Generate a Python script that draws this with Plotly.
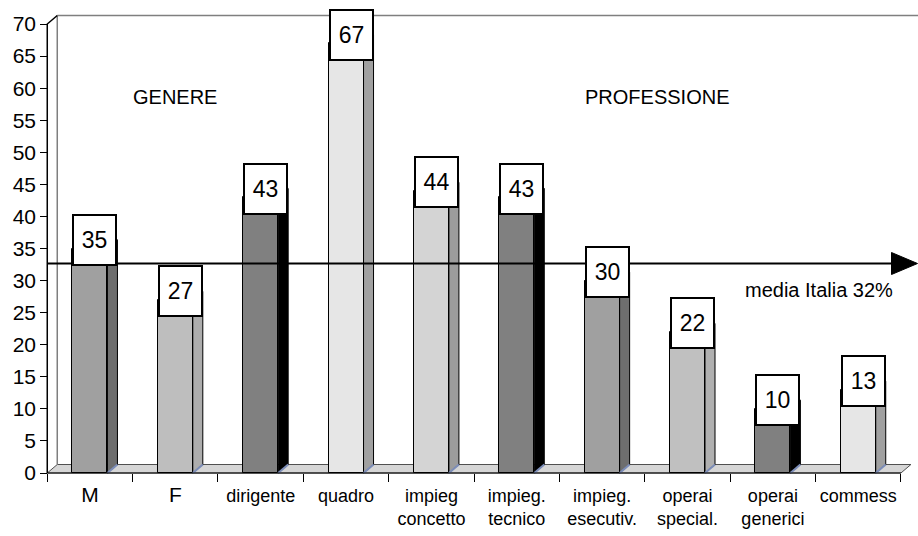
import plotly.graph_objects as go

# ---- data -------------------------------------------------------------
CATEGORIES = ["M", "F", "dirigente", "quadro", "impieg\nconcetto", "impieg.\ntecnico",
              "impieg.\nesecutiv.", "operai\nspecial.", "operai\ngenerici", "commess"]
VALUES = [35, 27, 43, 67, 44, 43, 30, 22, 10, 13]
MEAN_ITALIA = 32
MEAN_LABEL = "media Italia 32%"
GROUP_TITLES = ["GENERE", "PROFESSIONE"]
Y_TICKS = list(range(0, 75, 5))
BIG_LABELS = ["M", "F"]

# ---- styling ----------------------------------------------------------
FRONT_COLORS = ["#A0A0A0", "#BEBEBE", "#808080", "#E6E6E6", "#D4D4D4",
                "#808080", "#A0A0A0", "#C0C0C0", "#808080", "#E6E6E6"]
SIDE_COLORS = ["#6E6E6E", "#ADADAD", "#000000", "#A0A0A0", "#9C9C9C",
               "#000000", "#6E6E6E", "#B0B0B0", "#000000", "#A0A0A0"]
TOP_COLORS = ["#C8C8C8", "#D8D8D8", "#A8A8A8", "#F2F2F2", "#E6E6E6",
              "#A8A8A8", "#C8C8C8", "#DADADA", "#A8A8A8", "#F2F2F2"]
FONT = "Liberation Sans, Arial, sans-serif"

W, H = 918, 536
ML, MR, MT, MB = 40, 0, 13, 60
PLOT_W = W - ML - MR
PLOT_H = H - MT - MB
X_MIN, X_MAX = -0.585, 9.70
Y_MIN, Y_MAX = -0.468, 71.72
PXU_X = PLOT_W / (X_MAX - X_MIN)
PXU_Y = PLOT_H / (Y_MAX - Y_MIN)

# pseudo-3D depth of the columns, in axis units
DX = 10 / PXU_X
DY = 8.5 / PXU_Y
BAR_W = 0.41
Y_TOP = Y_TICKS[-1]
X_LEFT = -0.5
X_RIGHT = len(CATEGORIES) - 0.5

idx = list(range(len(CATEGORIES)))


def tick_label(c):
    t = c.replace("\n", "<br>")
    if c in BIG_LABELS:
        t = "<span style='font-size:21px'>" + t + "</span>"
    return t


fig = go.Figure()

fig.add_trace(go.Bar(
    x=idx, y=VALUES, width=BAR_W,
    marker=dict(color=FRONT_COLORS, line=dict(color="#000000", width=1)),
    hoverinfo="skip", showlegend=False,
))

shapes = []
# floor
shapes.append(dict(
    type="path", xref="x", yref="y", layer="below",
    path=f"M {X_LEFT},0 L {X_RIGHT},0 L {X_RIGHT + DX},{DY} L {X_LEFT + DX},{DY} Z",
    fillcolor="#D6D6D6", line=dict(color="#505050", width=1),
))
# back wall edges
shapes.append(dict(
    type="line", xref="x", yref="y", layer="below",
    x0=X_LEFT + DX, y0=DY, x1=X_LEFT + DX, y1=Y_TOP + DY,
    line=dict(color="#7F7F7F", width=1.5),
))
shapes.append(dict(
    type="line", xref="x", yref="y", layer="below",
    x0=X_LEFT + DX, y0=Y_TOP + DY, x1=X_MAX, y1=Y_TOP + DY,
    line=dict(color="#7F7F7F", width=1.5),
))

# side and top faces of the columns
for i, v in enumerate(VALUES):
    xr = i + BAR_W / 2
    xl = i - BAR_W / 2
    shapes.append(dict(
        type="path", xref="x", yref="y", layer="below",
        path=f"M {xr},0 L {xr + DX},{DY} L {xr + DX},{v + DY} L {xr},{v} Z",
        fillcolor=SIDE_COLORS[i], line=dict(color="#000000", width=1),
    ))
    shapes.append(dict(
        type="path", xref="x", yref="y", layer="below",
        path=f"M {xl},{v} L {xl + DX},{v + DY} L {xr + DX},{v + DY} L {xr},{v} Z",
        fillcolor=TOP_COLORS[i], line=dict(color="#000000", width=1),
    ))
    shapes.append(dict(
        type="line", xref="x", yref="y", layer="above",
        x0=xr, y0=0, x1=xr + DX, y1=DY,
        line=dict(color="#7C8DB8", width=2),
    ))

# front value axis and floor front edge
shapes.append(dict(
    type="path", xref="x", yref="y", layer="above",
    path=f"M {X_LEFT},0 L {X_LEFT},{Y_TOP} L {X_LEFT + DX},{Y_TOP + DY}",
    line=dict(color="#000000", width=1.5),
))
shapes.append(dict(
    type="line", xref="x", yref="y", layer="above",
    x0=X_LEFT, y0=0, x1=X_RIGHT, y1=0,
    line=dict(color="#000000", width=1),
))

# national average arrow
mean_y = MEAN_ITALIA + DY / 2
head_len = 26 / PXU_X
head_half = 11 / PXU_Y
tip = X_MAX - 0.5 / PXU_X
shapes.append(dict(
    type="line", xref="x", yref="y", layer="above",
    x0=X_LEFT, y0=mean_y, x1=tip - head_len, y1=mean_y,
    line=dict(color="#000000", width=2),
))
shapes.append(dict(
    type="path", xref="x", yref="y", layer="above",
    path=(f"M {tip - head_len},{mean_y - head_half} L {tip},{mean_y} "
          f"L {tip - head_len},{mean_y + head_half} Z"),
    fillcolor="#000000", line=dict(color="#000000", width=1),
))

annotations = []
for i, v in enumerate(VALUES):
    annotations.append(dict(
        x=i + DX / 2, y=v + DY, xref="x", yref="y",
        text=str(v), showarrow=False,
        font=dict(family=FONT, size=23, color="#000000"),
        bgcolor="#FFFFFF", bordercolor="#000000", borderwidth=2, borderpad=0,
        width=41, height=48, xanchor="center", yanchor="middle",
    ))

annotations.append(dict(
    x=(175 - ML) / PLOT_W, y=(H - MB - 97) / PLOT_H, xref="paper", yref="paper",
    text=GROUP_TITLES[0], showarrow=False, xanchor="center", yanchor="middle",
    font=dict(family=FONT, size=20, color="#000000"),
))
annotations.append(dict(
    x=(657 - ML) / PLOT_W, y=(H - MB - 97) / PLOT_H, xref="paper", yref="paper",
    text=GROUP_TITLES[1], showarrow=False, xanchor="center", yanchor="middle",
    font=dict(family=FONT, size=20, color="#000000"),
))
annotations.append(dict(
    x=(819 - ML) / PLOT_W, y=(H - MB - 290) / PLOT_H, xref="paper", yref="paper",
    text=MEAN_LABEL, showarrow=False, xanchor="center", yanchor="middle",
    font=dict(family=FONT, size=20, color="#000000"),
))

fig.update_layout(
    width=W, height=H,
    margin=dict(l=ML, r=MR, t=MT, b=MB, pad=0),
    paper_bgcolor="#FFFFFF", plot_bgcolor="#FFFFFF",
    font=dict(family=FONT, color="#000000"),
    bargap=0, showlegend=False,
    shapes=shapes, annotations=annotations,
    xaxis=dict(
        range=[X_MIN, X_MAX], showgrid=False, zeroline=False, showline=False,
        tickmode="array", tickvals=idx, ticktext=[tick_label(c) for c in CATEGORIES],
        ticks="", tickfont=dict(family=FONT, size=18, color="#000000"),
        ticklabelstandoff=10,
        anchor="free", position=(0 - Y_MIN) / (Y_MAX - Y_MIN),
        minor=dict(tickmode="array", tickvals=[i - 0.5 for i in range(len(CATEGORIES) + 1)],
                   ticks="outside", ticklen=8, tickcolor="#000000", tickwidth=1,
                   showgrid=False),
        automargin=False, fixedrange=True,
    ),
    yaxis=dict(
        range=[Y_MIN, Y_MAX], showgrid=False, zeroline=False, showline=False,
        tickmode="array", tickvals=Y_TICKS, ticks="outside", ticklen=7,
        tickcolor="#000000", tickwidth=1,
        tickfont=dict(family=FONT, size=21, color="#000000"),
        anchor="free", position=(X_LEFT - X_MIN) / (X_MAX - X_MIN),
        automargin=False, fixedrange=True,
    ),
)

fig.write_html("out.html")
